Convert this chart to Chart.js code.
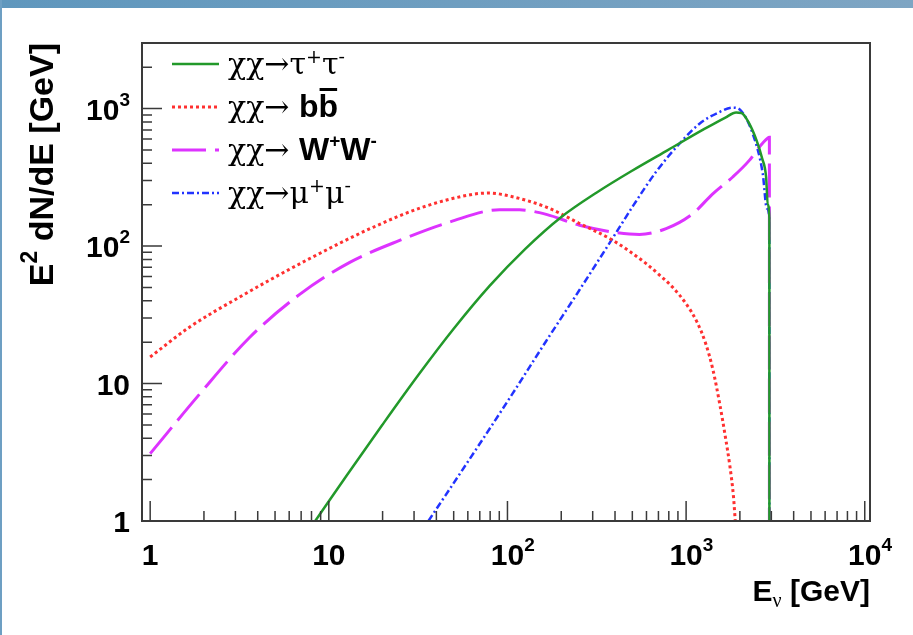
<!DOCTYPE html>
<html>
<head>
<meta charset="utf-8">
<title>E2 dN/dE</title>
<script src="https://cdn.jsdelivr.net/npm/chart.js@4.4.1/dist/chart.umd.min.js"></script>
<style>
  html, body { margin: 0; padding: 0; background: #fff; }
  #wrap { width: 913px; height: 635px; }
</style>
</head>
<body>
<div id="wrap"><canvas id="myChart" width="913" height="635"></canvas></div>
<script>
// values: energy [GeV] and E^2 dN/dE [GeV]
const tauE = [8.39, 12.59, 19.95, 31.62, 50.12, 79.43, 125.9, 199.5, 316.2, 501.2, 794.3, 1259, 1660, 1905, 2042, 2239, 2477, 2661, 2805, 2864, 2925, 2925.5];
const tauV = [1, 2.14, 5.01, 11.48, 25.12, 51.29, 95.5, 162.2, 245.5, 354.8, 501.2, 707.9, 861, 937.6, 929, 794, 589, 436.5, 316.2, 199.5, 160, 0.5];

const bbE = [1, 1.667, 3.17, 7.48, 17.7, 33.6, 64.0, 79.4, 98.4, 165, 253, 389, 598, 708, 841, 1000, 1148, 1288, 1413, 1549, 1660, 1758, 1841, 1884, 1950];
const bbV = [15.6, 25.8, 42.6, 78.7, 137, 192, 238, 243, 234, 192, 146, 110, 74.5, 61.7, 50.1, 38.0, 28.2, 19.5, 12.6, 6.9, 4.07, 2.51, 1.51, 1.0, 0.5];

const wwE = [1, 1.895, 3.61, 6.87, 13.1, 24.9, 47.5, 90.4, 117, 165, 253, 389, 548, 773, 1089, 1410, 1824, 2259, 2570, 2851, 2925, 2925.5];
const wwV = [3.09, 8.41, 21.7, 44.5, 76.1, 109.9, 149.6, 183.6, 183.4, 170, 141.6, 126.5, 121.6, 134, 172, 240, 318, 420, 525, 607, 620, 0.5];

const muE = [36.1, 69.8, 107.2, 164.8, 252.9, 389.0, 503.5, 679.2, 918.3, 1188.5, 1538.2, 1823.9, 2041.7, 2360.5, 2685.4, 2831.4, 2925, 2925.5];
const muV = [1, 3.63, 8.51, 20.4, 47.9, 114.8, 195.0, 346.7, 555.9, 776.2, 944.1, 1016.2, 957.2, 656.1, 336.5, 187.9, 160, 0.5];

// axis ranges and labels ('^' marks the exponent)
const xRange = [0.9, 10700];
const yRange = [1, 3000];
const xTickValues = [1, 10, 100, 1000, 10000];
const xTickLabels = ['1', '10', '10^2', '10^3', '10^4'];
const yTickValues = [1, 10, 100, 1000];
const yTickLabels = ['1', '10', '10^2', '10^3'];

const toPoints = (xs, ys) => xs.map((x, i) => ({ x: x, y: ys[i] }));

const F_LAB = 'bold 30px "Liberation Sans"';
const F_SUP = 'bold 19px "Liberation Sans"';
const F_TIT = 'bold 34px "Liberation Sans"';
const F_LEG = '30px "DejaVu Serif"';
const F_LEGSUP = '19px "DejaVu Serif"';
const F_LEGB = 'bold 32px "Liberation Sans"';
const F_LEGBSUP = 'bold 19px "Liberation Sans"';

// draws a list of text pieces left to right, returns the width
function rich(c, x, y, segs, dry) {
  let w = 0;
  segs.forEach(s => {
    c.font = s.f;
    const sw = c.measureText(s.t).width;
    if (!dry) {
      c.fillText(s.t, x + w, y + (s.dy || 0));
      if (s.bar) {
        c.fillRect(x + w + 1, y - 29, sw - 2, 3);
      }
    }
    w += sw;
  });
  return w;
}

function tickSegs(lbl) {
  const p = lbl.split('^');
  const segs = [{ t: p[0], f: F_LAB }];
  if (p[1]) segs.push({ t: p[1], f: F_SUP, dy: -14 });
  return segs;
}

const legendRows = [
  [{ t: 'χχ→τ', f: F_LEG }, { t: '+', f: F_LEGSUP, dy: -11 }, { t: 'τ', f: F_LEG }, { t: '-', f: F_LEGSUP, dy: -11 }],
  [{ t: 'χχ→ ', f: F_LEG }, { t: 'b', f: F_LEGB }, { t: 'b', f: F_LEGB, bar: true }],
  [{ t: 'χχ→ ', f: F_LEG }, { t: 'W', f: F_LEGB }, { t: '+', f: F_LEGBSUP, dy: -13 }, { t: 'W', f: F_LEGB }, { t: '-', f: F_LEGBSUP, dy: -13 }],
  [{ t: 'χχ→μ', f: F_LEG }, { t: '+', f: F_LEGSUP, dy: -11 }, { t: 'μ', f: F_LEG }, { t: '-', f: F_LEGSUP, dy: -11 }]
];

// ROOT-like frame, inward ticks, labels and legend
const rootFrame = {
  id: 'rootFrame',
  beforeDraw(chart) {
    const c = chart.ctx;
    c.save();
    c.fillStyle = '#fff';
    c.fillRect(0, 0, chart.width, chart.height);
    const g = c.createLinearGradient(0, 0, chart.width, 0);
    g.addColorStop(0, '#5f97bd');
    g.addColorStop(1, '#7ea5c3');
    c.fillStyle = g;
    c.fillRect(0, 0, chart.width, 8);
    c.fillStyle = '#6d9fc3';
    c.fillRect(0, 0, 2, chart.height);
    c.restore();
  },
  afterDraw(chart) {
    const c = chart.ctx;
    const a = chart.chartArea;
    const xs = chart.scales.x, ys = chart.scales.y;
    c.save();
    c.strokeStyle = '#3a3a3a';
    c.fillStyle = '#000';
    c.lineWidth = 2;
    c.strokeRect(a.left, a.top, a.right - a.left, a.bottom - a.top);

    // ticks
    c.lineWidth = 1.5;
    c.beginPath();
    for (let d = -1; d <= 4; d++) {
      for (let k = 1; k <= 9; k++) {
        const v = k * Math.pow(10, d);
        const len = k === 1 ? 20 : 10;
        if (v >= xRange[0] && v <= xRange[1]) {
          const px = xs.getPixelForValue(v);
          c.moveTo(px, a.bottom);
          c.lineTo(px, a.bottom - len);
        }
        if (v > yRange[0] && v < yRange[1]) {
          const py = ys.getPixelForValue(v);
          c.moveTo(a.left, py);
          c.lineTo(a.left + len, py);
        }
      }
    }
    c.stroke();

    // tick labels
    c.textBaseline = 'alphabetic';
    xTickValues.forEach((v, i) => {
      const segs = tickSegs(xTickLabels[i]);
      const base = rich(c, 0, 0, [segs[0]], true);
      const px = xs.getPixelForValue(v);
      rich(c, px - base / 2, 565, segs);
    });
    yTickValues.forEach((v, i) => {
      const segs = tickSegs(yTickLabels[i]);
      const w = rich(c, 0, 0, segs, true);
      const py = ys.getPixelForValue(v);
      rich(c, 130 - w, py + 11, segs);
    });

    // axis titles
    const xt = [{ t: 'E', f: F_LAB }, { t: 'ν', f: '20px "Liberation Serif"', dy: 6 }, { t: ' [GeV]', f: F_LAB }];
    const xw = rich(c, 0, 0, xt, true);
    rich(c, a.right - xw, 601, xt);

    const yt = [{ t: 'E', f: F_TIT }, { t: '2', f: 'bold 23px "Liberation Sans"', dy: -16 }, { t: ' dN/dE [GeV]', f: F_TIT }];
    const yw = rich(c, 0, 0, yt, true);
    c.translate(53, 0);
    c.rotate(-Math.PI / 2);
    rich(c, -a.top - yw, 0, yt);
    c.setTransform(1, 0, 0, 1, 0, 0);

    // legend
    chart.data.datasets.forEach((ds, i) => {
      const ly = 64 + i * 43;
      c.strokeStyle = ds.borderColor;
      c.lineWidth = ds.borderWidth;
      c.setLineDash(ds.borderDash || []);
      c.beginPath();
      c.moveTo(172, ly);
      c.lineTo(219, ly);
      c.stroke();
      c.setLineDash([]);
      c.fillStyle = '#000';
      rich(c, 228, ly + 10, legendRows[i]);
    });
    c.restore();
  }
};

const ctx = document.getElementById('myChart');

new Chart(ctx, {
  type: 'line',
  data: {
    datasets: [{
      label: 'χχ→τ+τ-',
      data: toPoints(tauE, tauV),
      borderColor: '#22992a',
      borderWidth: 2.5
    },
    {
      label: 'χχ→ bb̄',
      data: toPoints(bbE, bbV),
      borderColor: '#ff3030',
      borderWidth: 3,
      borderDash: [3, 3]
    },
    {
      label: 'χχ→ W+W-',
      data: toPoints(wwE, wwV),
      borderColor: '#dd33ff',
      borderWidth: 3,
      borderDash: [34, 9]
    },
    {
      label: 'χχ→μ+μ-',
      data: toPoints(muE, muV),
      borderColor: '#2233ff',
      borderWidth: 2.5,
      borderDash: [7, 3, 2, 3]
    }]
  },
  options: {
    responsive: false,
    animation: false,
    layout: { padding: { left: 142, top: 43, right: 43, bottom: 114 } },
    elements: {
      point: { radius: 0 },
      line: { cubicInterpolationMode: 'monotone', fill: false }
    },
    scales: {
      x: { type: 'logarithmic', min: xRange[0], max: xRange[1], display: false },
      y: { type: 'logarithmic', min: yRange[0], max: yRange[1], display: false }
    },
    plugins: {
      legend: { display: false },
      tooltip: { enabled: false }
    }
  },
  plugins: [rootFrame]
});
</script>
</body>
</html>
